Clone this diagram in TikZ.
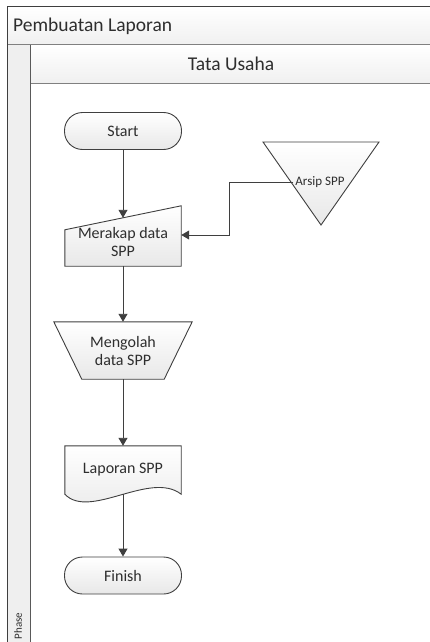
\documentclass[tikz,border=0pt]{standalone}
\usepackage{fontspec}
\setmainfont{Carlito}
\usetikzlibrary{arrows.meta,backgrounds}
\definecolor{linegray}{HTML}{3F3F3F}
\definecolor{txtgray}{HTML}{2E2E2E}
\definecolor{lanegray}{HTML}{EFEFEF}
\tikzset{
  shapefill/.style={draw=linegray, line width=0.9pt, top color=white, bottom color=gray!18},
  shapetext/.style={text=txtgray, font=\fontsize{16}{18}\selectfont, align=center, inner sep=2pt},
  terminal/.style={shapefill, shapetext, rounded corners=18pt, minimum width=117, minimum height=37},
  boxtext/.style={shapetext, minimum width=#1},
  headtext/.style={text=txtgray, font=\fontsize{19.5}{22}\selectfont, inner sep=0pt},
}
\begin{document}
\begin{tikzpicture}[x=1pt, y=-1pt, >={Triangle[length=8pt,width=9pt]}]
          \useasboundingbox (0,0) rectangle (430,642);

          \fill[top color=white, bottom color=gray!12] (7,7) rectangle (430,45);
          \fill[top color=white, bottom color=gray!12] (30,45) rectangle (430,83);
          \fill[lanegray] (7,45) rectangle (30,642);
          \draw[gray, line width=1pt] (7,45) -- (430,45);
          \draw[gray, line width=1pt] (30,83) -- (430,83);
          \draw[gray!70!black, line width=1pt] (30,45) -- (30,642);
          \draw[linegray, line width=1pt] (7,642) -- (7,7) -- (430,7);

          \node[headtext, anchor=west] (pool) at (13,26) {Pembuatan Laporan};
          \node[headtext] (lane) at (231,64) {Tata Usaha};
          \node[text=txtgray, font=\fontsize{11}{13}\selectfont, rotate=90] (phase) at (18,626) {Phase};

          \node[terminal] (start) at (123,131) {Start};
          \node[boxtext=116, minimum height=48] (merakap) at (123,242) {Merakap data\\SPP};
          \node[shapetext, font=\fontsize{13}{15}\selectfont] (arsip) at (320,182) {Arsip SPP};
          \node[boxtext=138, minimum height=57] (mengolah) at (123,350.5) {Mengolah\\data SPP};
          \node[boxtext=116, minimum height=48] (laporan) at (123,470) {Laporan SPP};
          \node[terminal] (finish) at (123,575.5) {Finish};

          \begin{pgfonlayer}{background}
          \draw[shapefill] (merakap.south west) -- ([yshift=-12pt]merakap.north west)
               -- ([yshift=12pt]merakap.north east) -- (merakap.south east) -- cycle;
          \draw[shapefill] ([shift={(-57,-40)}]arsip.center) -- ([shift={(59,-40)}]arsip.center)
               -- ([shift={(1,43)}]arsip.center) -- cycle;
          \draw[shapefill] (mengolah.north west) -- (mengolah.north east)
               -- ([xshift=-28pt]mengolah.south east) -- ([xshift=28pt]mengolah.south west) -- cycle;
          \draw[shapefill] (laporan.north west) -- (laporan.north east) -- (laporan.south east)
               .. controls ([shift={(-31,-24)}]laporan.south east) and ([shift={(25,26)}]laporan.south west) .. (laporan.south west) -- cycle;
          \end{pgfonlayer}

          \draw[->, linegray, line width=0.9pt] (start) -- (merakap);
          \draw[->, linegray, line width=0.9pt] (arsip.west) -- ++(-64,0) |- ([yshift=7pt]merakap.east);
          \draw[->, linegray, line width=0.9pt] (merakap) -- (mengolah);
          \draw[->, linegray, line width=0.9pt] (mengolah) -- (laporan);
          \draw[->, linegray, line width=0.9pt] (laporan) -- (finish);
    \end{tikzpicture}
\end{document}
